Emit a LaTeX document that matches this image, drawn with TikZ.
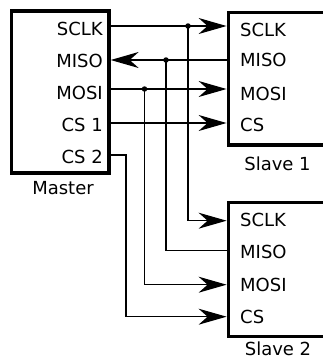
\documentclass[tikz,border=0pt]{standalone}
\usepackage{fontspec}
\setmainfont{DejaVu Sans}
\usetikzlibrary{arrows.meta}
\tikzset{
  box/.style={draw, line width=3.3pt, minimum width=140pt, inner sep=0pt, anchor=north west},
  mbox/.style={draw, line width=3.3pt, inner sep=0pt},
  lab/.style={font=\fontsize{18}{20}\selectfont, inner sep=0pt},
  sig/.style={line width=1.3pt},
  arr/.style={sig, -{Stealth[length=28pt, width=16pt, inset=9pt]}},
  dot/.style={circle, fill=black, inner sep=0pt, minimum size=5.5pt},
}
\begin{document}
\begin{tikzpicture}[x=1pt, y=-1pt]
\useasboundingbox (0,0) rectangle (323,360);
\clip (0,0) rectangle (323,360);
% boxes
\node[mbox, minimum width=97.5pt, minimum height=162pt] (m) at (60.25,92) {};
\node[box, minimum height=132.3pt] (s1) at (226.6,11) {};
\node[box, minimum height=133.7pt] (s2) at (226.6,201) {};
% labels master
\node[lab, anchor=base east] (mt1) at (103,35) {SCLK};
\node[lab, anchor=base east] (mt2) at (103,67) {MISO};
\node[lab, anchor=base east] (mt3) at (103,99) {MOSI};
\node[lab, anchor=base east] (mt4) at (103,131.5) {CS 1};
\node[lab, anchor=base east] (mt5) at (103,163) {CS 2};
\node[lab, anchor=base] (mname) at (63,194.3) {Master};
% labels slave 1
\node[lab, anchor=base west] (at1) at (240,36) {SCLK};
\node[lab, anchor=base west] (at2) at (240,66.5) {MISO};
\node[lab, anchor=base west] (at3) at (240,100.5) {MOSI};
\node[lab, anchor=base west] (at4) at (240,131.7) {CS};
\node[lab, anchor=base] (aname) at (277.5,170) {Slave 1};
% labels slave 2
\node[lab, anchor=base west] (bt1) at (240,226.7) {SCLK};
\node[lab, anchor=base west] (bt2) at (240,258.5) {MISO};
\node[lab, anchor=base west] (bt3) at (240,291) {MOSI};
\node[lab, anchor=base west] (bt4) at (240,323) {CS};
\node[lab, anchor=base] (bname) at (278,355.5) {Slave 2};
% ports
\coordinate (msclk) at (m.east |- 0,26);
\coordinate (mmiso) at (m.east |- 0,60);
\coordinate (mmosi) at (m.east |- 0,89);
\coordinate (mcs1) at (m.east |- 0,123);
\coordinate (mcs2) at (m.east |- 0,155);
\coordinate (asclk) at (s1.west |- 0,26);
\coordinate (amiso) at (s1.west |- 0,60);
\coordinate (amosi) at (s1.west |- 0,89);
\coordinate (acs) at (s1.west |- 0,123);
\coordinate (bsclk) at (s2.west |- 0,220.7);
\coordinate (bmiso) at (s2.west |- 0,250.7);
\coordinate (bmosi) at (s2.west |- 0,284.7);
\coordinate (bcs) at (s2.west |- 0,316.7);
% junctions
\node[dot] (jsclk) at (188,26) {};
\node[dot] (jmiso) at (166,60) {};
\node[dot] (jmosi) at (144.5,89) {};
\coordinate (kcs2) at (126,155);
% connectors
\draw[arr] (msclk) -- (asclk);
\draw[arr] (amiso) -- (mmiso);
\draw[arr] (mmosi) -- (amosi);
\draw[arr] (mcs1) -- (acs);
\draw[arr] (jsclk.center) |- (bsclk);
\draw[sig] (bmiso) -| (jmiso.center);
\draw[arr] (jmosi.center) |- (bmosi);
\draw[arr] (mcs2) -- (kcs2) |- (bcs);
\end{tikzpicture}
\end{document}
